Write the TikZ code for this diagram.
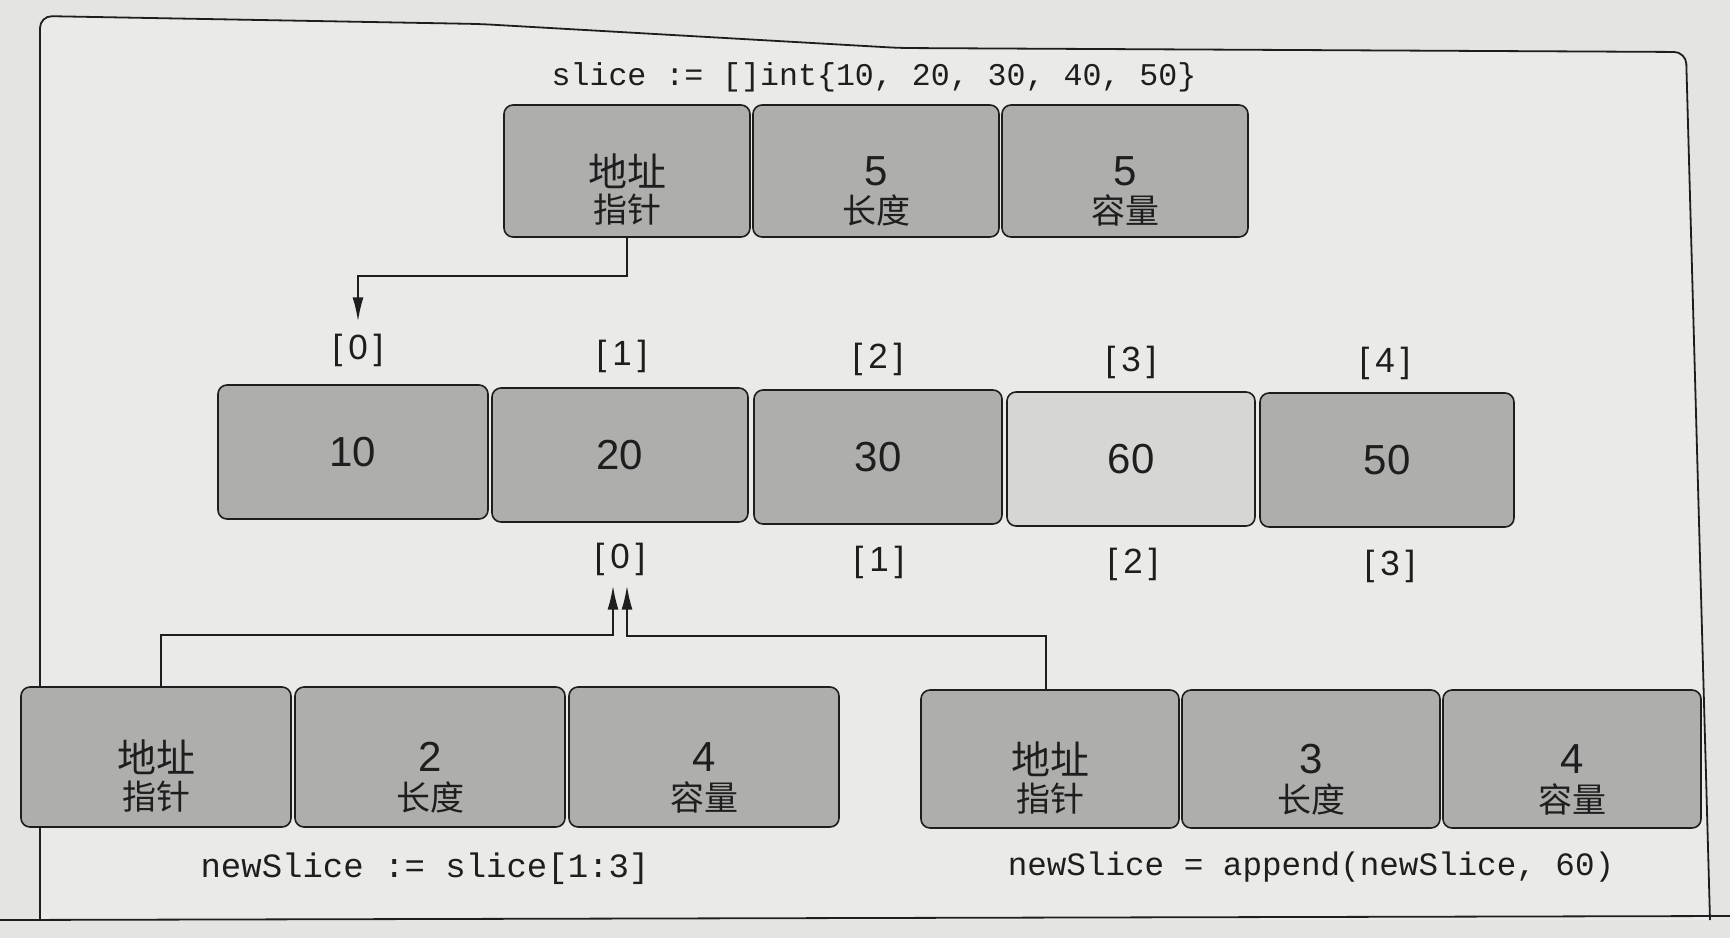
\documentclass[tikz,border=0pt]{standalone}
\usepackage{fontspec}
\usepackage{tikz}
\usepackage{xcolor}
\setmainfont{Liberation Sans}
\setmonofont{Liberation Mono}
\newfontfamily\cjk{Noto Sans CJK SC}
\usetikzlibrary{arrows.meta}

\definecolor{paper}{HTML}{E4E4E2}
\definecolor{frame}{HTML}{EAEAE8}
\definecolor{cell}{HTML}{AEAEAC}
\definecolor{cellnew}{HTML}{D6D6D4}
\definecolor{ink}{HTML}{1E1E1E}

\begin{document}
\begin{tikzpicture}[x=0.5pt, y=-0.5pt,
    box/.style={draw=ink, line width=0.8pt, rounded corners=4.5pt, fill=cell, inner sep=0pt,
        minimum width=#1, minimum height=66pt, text=ink, font=\fontsize{21}{25}\selectfont},
    box/.default=126pt,
    addr/.style={font=\cjk\fontsize{19.5}{22}\selectfont},
    sub/.style={inner sep=0pt, text=ink, font=\cjk\fontsize{17}{20}\selectfont},
    idx/.style={inner sep=2pt, text=ink, font=\fontsize{17.5}{20}\selectfont},
    code/.style={inner sep=0pt, text=ink, font=\ttfamily\fontsize{15.8}{19}\selectfont},
    arr/.style={-{Latex[length=12pt,width=5.5pt]}, line width=0.9pt, draw=ink}
]
    \useasboundingbox (0,0) rectangle (1730,938);
    \fill[paper] (0,0) rectangle (1730,938);

    % page frame
    \draw[ink, line width=0.9pt, fill=frame, rounded corners=6pt]
        (40,920) -- (40,16) -- (480,24) -- (900,48) -- (1686,52) -- (1710,920);
    \draw[ink, line width=0.9pt] (0,920) -- (1730,916);

    % slice header
    \node[code] (lit) at (874,77) {slice := []int\{10, 20, 30, 40, 50\}};
    \node[box=123pt, addr] (p0) at (627,171) {地址};
    \node[sub] (p0s) at ([yshift=-19.5pt]p0.center) {指针};
    \node[box=123pt] (p1) at (876,171) {5};
    \node[sub] (p1s) at ([yshift=-19.5pt]p1.center) {长度};
    \node[box=123pt] (p2) at (1125,171) {5};
    \node[sub] (p2s) at ([yshift=-19.5pt]p2.center) {容量};

    % backing array
    \node[idx] (i0) at (358,350) {[\,0\,]};
    \node[idx] (i1) at (622,356) {[\,1\,]};
    \node[idx] (i2) at (878,359) {[\,2\,]};
    \node[idx] (i3) at (1131,362) {[\,3\,]};
    \node[idx] (i4) at (1385,363) {[\,4\,]};
    \node[box=135pt, minimum height=67pt] (a0) at (353,452) {10};
    \node[box=128pt, minimum height=67pt] (a1) at (620,455) {20};
    \node[box=124pt, minimum height=67pt] (a2) at (878,457) {30};
    \node[box=124pt, minimum height=67pt, fill=cellnew] (a3) at (1131,459) {60};
    \node[box=127pt, minimum height=67pt] (a4) at (1387,460) {50};
    \node[idx] (j0) at (620,559) {[\,0\,]};
    \node[idx] (j1) at (879,562) {[\,1\,]};
    \node[idx] (j2) at (1133,564) {[\,2\,]};
    \node[idx] (j3) at (1390,566) {[\,3\,]};

    % newSlice := slice[1:3]
    \node[box=135pt, minimum height=70pt, addr] (b0) at (156,757) {地址};
    \node[sub] (b0s) at ([yshift=-20pt]b0.center) {指针};
    \node[box=135pt, minimum height=70pt] (b1) at (430,757) {2};
    \node[sub] (b1s) at ([yshift=-20pt]b1.center) {长度};
    \node[box=135pt, minimum height=70pt] (b2) at (704,757) {4};
    \node[sub] (b2s) at ([yshift=-20pt]b2.center) {容量};
    \node[code, font=\ttfamily\fontsize{17}{20}\selectfont] (cb) at (425,869) {newSlice := slice[1:3]};

    % newSlice = append(newSlice, 60)
    \node[box=129pt, minimum height=69pt, addr] (c0) at (1050,759) {地址};
    \node[sub] (c0s) at ([yshift=-20pt]c0.center) {指针};
    \node[box=129pt, minimum height=69pt] (c1) at (1311,759) {3};
    \node[sub] (c1s) at ([yshift=-20pt]c1.center) {长度};
    \node[box=129pt, minimum height=69pt] (c2) at (1572,759) {4};
    \node[sub] (c2s) at ([yshift=-20pt]c2.center) {容量};
    \node[code, font=\ttfamily\fontsize{16.3}{19}\selectfont] (cc) at (1311,867) {newSlice = append(newSlice, 60)};

    % pointers
    \draw[arr] (p0.south) -- ++(0,38) -| ([yshift=4pt]i0.north);
    \draw[arr] ([xshift=2.5pt]b0.north) -- ++(0,-51) -| ([xshift=-3.5pt,yshift=-3pt]j0.south);
    \draw[arr] ([xshift=-2pt]c0.north) -- ++(0,-53) -| ([xshift=3.5pt,yshift=-3pt]j0.south);
\end{tikzpicture}
\end{document}
